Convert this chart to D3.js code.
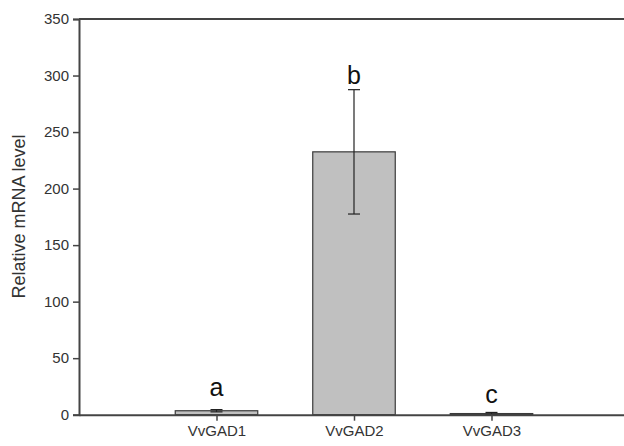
<!DOCTYPE html>
<html><head><meta charset="utf-8">
<script src="https://cdn.jsdelivr.net/npm/d3@7"></script>
<style>body{margin:0;background:#fff}svg{display:block}</style>
</head><body>
<script>
const categories = ["VvGAD1", "VvGAD2", "VvGAD3"];
const values = [3.5, 232.5, 1.0];
const errors = [1.0, 55, 1.0];
const letters = ["a", "b", "c"];
const yTicks = [0, 50, 100, 150, 200, 250, 300, 350];

const W = 624, H = 446;
const svg = d3.select("body").append("svg").attr("width", W).attr("height", H);
const font = "Liberation Sans, Arial, sans-serif";
const x = d3.scaleLinear().domain([0, 4]).range([79, 629]);
const y = d3.scaleLinear().domain([0, 350]).range([414.7, 19]);
const step = x(1) - x(0);
const bw = step * 0.6;

// bars
const g = svg.append("g");
g.selectAll("rect.bar").data(values).enter().append("rect")
  .attr("x", (d, i) => x(i + 1) - bw / 2)
  .attr("y", d => y(d))
  .attr("width", bw)
  .attr("height", d => y(0) - y(d))
  .attr("fill", "#c0c0c0").attr("stroke", "#3a3a3a").attr("stroke-width", 1.2);

// error bars
values.forEach((v, i) => {
  const cx = x(i + 1);
  g.append("line").attr("x1", cx).attr("x2", cx).attr("y1", y(v - errors[i])).attr("y2", y(v + errors[i]))
    .attr("stroke", "#222").attr("stroke-width", 1.2);
  [v - errors[i], v + errors[i]].forEach(e => {
    g.append("line").attr("x1", cx - 6).attr("x2", cx + 6).attr("y1", y(e)).attr("y2", y(e))
      .attr("stroke", "#222").attr("stroke-width", 1.2);
  });
  g.append("text").attr("x", cx).attr("y", y(v + errors[i]) - (i === 1 ? 6 : (i === 0 ? 14 : 9)))
    .attr("text-anchor", "middle").attr("font-family", font).attr("font-size", 25).attr("fill", "#111")
    .text(letters[i]);
});

// axes
const yAxis = d3.axisLeft(y).tickValues(yTicks).tickSize(6).tickPadding(4);
const ya = svg.append("g").attr("transform", `translate(${x(0)},0)`).call(yAxis);
ya.select(".domain").attr("stroke", "#444").attr("stroke-width", 2);
ya.selectAll(".tick line").attr("stroke", "#444").attr("stroke-width", 1.5);
ya.selectAll("text").attr("font-family", font).attr("font-size", 15).attr("fill", "#333");

const xAxis = d3.axisBottom(x).tickValues([1, 2, 3]).tickFormat((d) => categories[d - 1]).tickSize(6).tickSizeOuter(0).tickPadding(5);
const xa = svg.append("g").attr("transform", `translate(0,${y(0)})`).call(xAxis);
xa.select(".domain").attr("stroke", "#444").attr("stroke-width", 2);
xa.selectAll(".tick line").attr("stroke", "#444").attr("stroke-width", 1.5);
xa.selectAll("text").attr("font-family", font).attr("font-size", 15).attr("fill", "#333");

// top frame line
svg.append("line").attr("x1", x(0)).attr("x2", x(4)).attr("y1", y(350)).attr("y2", y(350))
  .attr("stroke", "#444").attr("stroke-width", 2);

// y label
svg.append("text").attr("transform", `translate(19,216.5) rotate(-90)`)
  .attr("text-anchor", "middle").attr("dy", "0.35em").attr("font-family", font).attr("font-size", 18).attr("fill", "#333")
  .text("Relative mRNA level");
</script>
</body></html>
